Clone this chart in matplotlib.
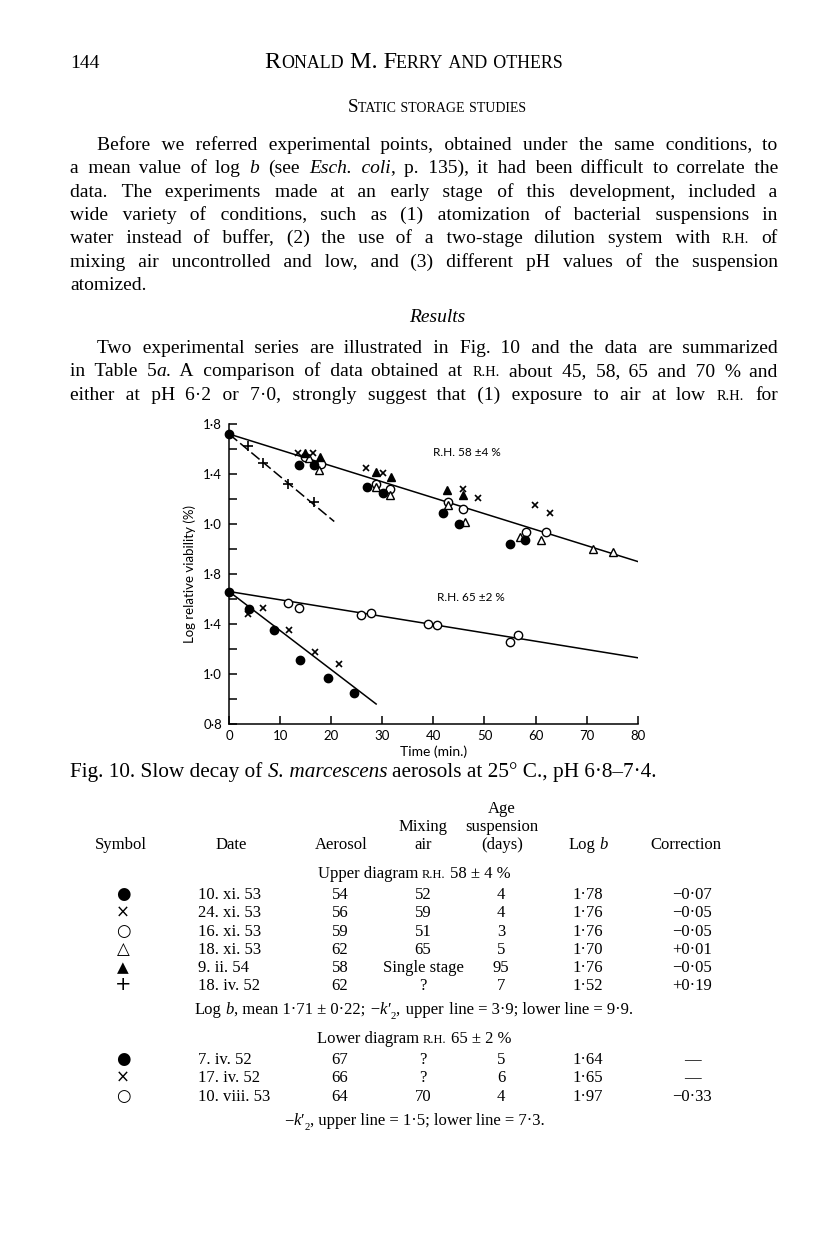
import re
import numpy as np
import matplotlib
matplotlib.use("Agg")
import matplotlib.pyplot as plt

W, H = 816, 1245
SERIF = ["Liberation Serif", "DejaVu Serif"]
SANS = ["Lato", "DejaVu Sans"]
SYM = ["DejaVu Sans"]
HAIR = "\u200a"

# ---- Fig. 10 data (log relative viability vs time, min) ----
UPPER_SHIFT = 1.2  # upper diagram sits above the lower one on a shared axis

up_dot_t = [0, 13.7, 16.7, 27.0, 30.1, 41.8, 45.0, 55.1, 58.0]
up_dot_v = [1.72, 1.47, 1.47, 1.30, 1.25, 1.09, 1.00, 0.84, 0.87]
up_x_t = [13.6, 16.5, 26.9, 30.1, 45.8, 48.8, 59.9, 62.9]
up_x_v = [1.57, 1.57, 1.45, 1.41, 1.28, 1.21, 1.15, 1.09]
up_circ_t = [14.8, 18.0, 28.8, 31.6, 42.9, 45.9, 58.2, 62.1]
up_circ_v = [1.54, 1.48, 1.32, 1.28, 1.18, 1.12, 0.94, 0.94]
up_tri_t = [15.7, 17.7, 28.8, 31.6, 42.9, 46.1, 56.9, 61.0, 71.2, 75.2]
up_tri_v = [1.53, 1.43, 1.30, 1.23, 1.15, 1.02, 0.90, 0.87, 0.80, 0.78]
up_ftri_t = [14.8, 17.8, 28.8, 31.8, 42.7, 45.8]
up_ftri_v = [1.57, 1.54, 1.42, 1.38, 1.27, 1.23]
up_plus_t = [3.8, 6.6, 11.5, 16.7]
up_plus_v = [1.62, 1.49, 1.32, 1.18]
up_line_t, up_line_v = [0, 80], [1.72, 0.70]
up_dash_t, up_dash_v = [0, 20.6], [1.72, 1.02]

lo_dot_t = [0, 3.9, 8.9, 13.9, 19.3, 24.4]
lo_dot_v = [1.66, 1.52, 1.35, 1.11, 0.97, 0.85]
lo_x_t = [3.8, 6.7, 11.8, 16.9, 21.6]
lo_x_v = [1.48, 1.53, 1.35, 1.18, 1.08]
lo_circ_t = [11.5, 13.7, 25.8, 27.8, 38.9, 40.8, 55.0, 56.6]
lo_circ_v = [1.57, 1.53, 1.47, 1.49, 1.40, 1.39, 1.26, 1.31]
lo_line_t, lo_line_v = [0, 80], [1.66, 1.13]
lo_steep_t, lo_steep_v = [0, 28.8], [1.66, 0.76]

XTICKS = [0, 10, 20, 30, 40, 50, 60, 70, 80]
YTICKS = [0.6, 1.0, 1.4, 1.8, 2.2, 2.6, 3.0]
YTICK_LABELS = ["0·8", "1·0", "1·4", "1·8", "1·0", "1·4", "1·8"]
YMINOR = [0.8, 1.2, 1.6, 2.0, 2.4, 2.8]

# ---- page text ----
PARA1 = [
    "Before we referred experimental points, obtained under the same conditions, to",
    "a mean value of log *b* (see *Esch.* *coli*, p. 135), it had been difficult to correlate the",
    "data. The experiments made at an early stage of this development, included a",
    "wide variety of conditions, such as (1) atomization of bacterial suspensions in",
    "water instead of buffer, (2) the use of a two-stage dilution system with ~r.h.~ of",
    "mixing air uncontrolled and low, and (3) different pH values of the suspension",
    "atomized.",
]
PARA2 = [
    "Two experimental series are illustrated in Fig. 10 and the data are summarized",
    "in Table 5*a*. A comparison of data obtained at ~r.h.~ about 45, 58, 65 and 70 % and",
    "either at pH 6·2 or 7·0, strongly suggest that (1) exposure to air at low ~r.h.~ for",
]

symbols_up = ["●", "×", "○", "△", "▲", "+"]
dates_up = ["10. xi. 53", "24. xi. 53", "16. xi. 53", "18. xi. 53", "9. ii. 54", "18. iv. 52"]
aerosol_up = ["54", "56", "59", "62", "58", "62"]
mixing_up = ["52", "59", "51", "65", "Single stage", "?"]
age_up = ["4", "4", "3", "5", "95", "7"]
logb_up = ["1·78", "1·76", "1·76", "1·70", "1·76", "1·52"]
corr_up = ["−0·07", "−0·05", "−0·05", "+0·01", "−0·05", "+0·19"]

symbols_lo = ["●", "×", "○"]
dates_lo = ["7. iv. 52", "17. iv. 52", "10. viii. 53"]
aerosol_lo = ["67", "66", "64"]
mixing_lo = ["?", "?", "70"]
age_lo = ["5", "6", "4"]
logb_lo = ["1·64", "1·65", "1·97"]
corr_lo = ["—", "—", "−0·33"]

fig = plt.figure(figsize=(W / 100, H / 100), dpi=100)
fig.patch.set_facecolor("white")
rend = fig.canvas.get_renderer()
_cache = {}


def fx(x):
    return x / W


def fy(y):
    return 1 - y / H


def measure(s, size, style="normal", family=SERIF):
    key = (s, size, style, tuple(family))
    if key not in _cache:
        t = fig.text(0, 0, s, fontsize=size, style=style, family=family)
        _cache[key] = t.get_window_extent(rend).width
        t.remove()
    return _cache[key]


def space_w(size, style="normal", family=SERIF):
    return measure("n n", size, style, family) - measure("nn", size, style, family)


def parse(tok, size):
    out = []
    for part in re.split(r"(\*[^*]+\*|~[^~]+~|_[^_]+_)", tok):
        if not part:
            continue
        if part[0] == "*" and len(part) > 1:
            out.append((part[1:-1], size, "italic", 0))
        elif part[0] == "~" and len(part) > 1:
            out.append((part[1:-1].upper(), size * 0.74, "normal", 0))
        elif part[0] == "_" and len(part) > 1:
            out.append((part[1:-1], size * 0.65, "normal", size * 0.4))
        else:
            out.append((part, size, "normal", 0))
    return out


def gap_string(run, seg, target, sz, st, family, g):
    # choose spaces + hair spaces so the next word lands near its target
    sp = space_w(sz, st, family)
    hair = max(measure("n" + HAIR + "n", sz, st, family) - measure("nn", sz, st, family), 0.5)
    best, err = " ", 1e9
    for n in (0, 1, 2, 3):
        m0 = int(round((g - n * sp) / hair))
        for m in (m0 - 1, m0, m0 + 1):
            if m < 0 or n + m == 0:
                continue
            gs = " " * n + HAIR * m
            e = abs(measure(run + gs + seg, sz, st, family) - target)
            if e < err:
                best, err = gs, e
    return best


def line(s, y, size, x=70, x1=None, ha="left", family=SERIF, fit=None):
    toks = s.split(" ")
    if fit:
        nat = sum(sum(measure(*sg[:3], family) for sg in parse(t, size)) for t in toks)
        nat += space_w(size, "normal", family) * (len(toks) - 1)
        size = size * fit / nat
    words = [parse(t, size) for t in toks]
    ww = [sum(measure(txt, sz, st, family) for txt, sz, st, dy in w) for w in words]
    total = sum(ww)
    if x1 is not None and len(words) > 1:
        g = (x1 - x - total) / (len(words) - 1)
        start = x
    else:
        g = space_w(size, "normal", family)
        full = total + g * (len(words) - 1)
        start = {"left": x, "center": x - full / 2, "right": x - full}[ha]
    runs = []  # [x0, text, size, style, dy]
    cur = start
    for i, w in enumerate(words):
        for k, (txt, sz, st, dy) in enumerate(w):
            same = runs and runs[-1][2:] == [sz, st, dy]
            if k == 0 and i > 0:
                if same:
                    r = runs[-1]
                    target = cur - r[0] + measure(txt, sz, st, family)
                    r[1] += gap_string(r[1], txt, target, sz, st, family, g) + txt
                else:
                    runs.append([cur, txt, sz, st, dy])
            elif k == 0:
                runs.append([cur, txt, sz, st, dy])
            else:
                if same:
                    runs[-1][1] += txt
                else:
                    r = runs[-1]
                    runs.append([r[0] + measure(r[1], r[2], r[3], family), txt, sz, st, dy])
        cur += ww[i] + g
    for x0, txt, sz, st, dy in runs:
        fig.text(fx(x0), fy(y + dy), txt, fontsize=sz, style=st, family=family, va="baseline")


# ---- header and body ----
line("144", 68, 14, x=70)
line("R~onald~ M. F~erry~ ~and~ ~others~", 68, 14, x=414, ha="center", fit=298)
line("S~tatic~ ~storage~ ~studies~", 112, 12, x=437, ha="center", fit=180)

BODY = 14
y = 150
for i, s in enumerate(PARA1):
    last = i == len(PARA1) - 1
    line(s, y, BODY, x=97 if i == 0 else 70, x1=None if last else 778)
    y += 23.3

line("*Results*", 322, BODY, x=437, ha="center")

y = 353
for i, s in enumerate(PARA2):
    line(s, y, BODY, x=97 if i == 0 else 70, x1=778)
    y += 23.5

line("Fig. 10. Slow decay of *S.* *marcescens* aerosols at 25° C., pH 6·8–7·4.", 777, 12, x=70, fit=587)

# ---- chart ----
ax = fig.add_axes([fx(229), fy(724), (637.7 - 229) / W, 300 / H])
ax.patch.set_alpha(0)
ax.set_xlim(0, 80)
ax.set_ylim(0.6, 3.0)
for side in ("top", "right"):
    ax.spines[side].set_visible(False)
for side in ("left", "bottom"):
    ax.spines[side].set_linewidth(1.1)

up = lambda v: np.array(v) + UPPER_SHIFT
lw = 1.1
ax.plot(up_line_t, up(up_line_v), color="black", lw=lw, zorder=2)
ax.plot(up_dash_t, up(up_dash_v), color="black", lw=lw, ls=(0, (7, 2.5)), zorder=2)
ax.plot(lo_line_t, lo_line_v, color="black", lw=lw, zorder=2)
ax.plot(lo_steep_t, lo_steep_v, color="black", lw=lw, zorder=2)


def pts(t, v, marker, filled, ms=6, mew=1.0):
    ax.plot(t, v, ls="none", marker=marker, ms=ms, mew=mew,
            mfc="black" if filled else "white", mec="black", clip_on=False, zorder=3)


pts(up_circ_t, up(up_circ_v), "o", False)
pts(up_tri_t, up(up_tri_v), "^", False)
pts(up_ftri_t, up(up_ftri_v), "^", True)
pts(up_dot_t, up(up_dot_v), "o", True)
pts(up_x_t, up(up_x_v), "x", False, ms=4.8, mew=1.2)
pts(up_plus_t, up(up_plus_v), "+", False, ms=6.5, mew=1.2)

pts(lo_circ_t, lo_circ_v, "o", False)
pts(lo_dot_t, lo_dot_v, "o", True)
pts(lo_x_t, lo_x_v, "x", False, ms=4.8, mew=1.2)

ax.text(39.9, 2.77, "R.H. 58 ±4 %", family=SANS, fontsize=8.5, va="center")
ax.text(40.7, 1.61, "R.H. 65 ±2 %", family=SANS, fontsize=8.5, va="center")

ax.set_xticks(XTICKS)
ax.set_yticks(YTICKS)
ax.set_yticklabels(YTICK_LABELS)
ax.set_yticks(YMINOR, minor=True)
ax.tick_params(which="both", direction="in", length=5.5, width=1.1, labelsize=9.5)
ax.tick_params(axis="x", pad=4)
ax.tick_params(axis="y", pad=5)
for lab in ax.get_xticklabels() + ax.get_yticklabels():
    lab.set_family(SANS)
ax.set_xlabel("Time (min.)", family=SANS, fontsize=10, labelpad=3)
ax.set_ylabel("Log relative viability (%)", family=SANS, fontsize=9.5, labelpad=5)

# ---- table ----
TS = 12
COL_SYM, COL_DATE, COL_AER, COL_MIX, COL_AGE, COL_LOGB, COL_CORR = 123, 198, 340, 423, 501, 588, 692

line("Age", 813, TS, x=502, ha="center")
line("Mixing", 831, TS, x=423, ha="center")
line("suspension", 831, TS, x=502, ha="center")
for txt, cx in [("Symbol", 121), ("Date", 231), ("Aerosol", 341), ("air", 423),
                ("(days)", 502), ("Log *b*", 588), ("Correction", 686)]:
    line(txt, 849, TS, x=cx, ha="center")


def rows(y0, syms, dates, aer, mix, age, logb, corr):
    for i in range(len(syms)):
        yy = y0 + i * 18.3
        sz = {"●": 12, "○": 12, "△": 12, "▲": 11, "×": 12, "+": 14}[syms[i]]
        fig.text(fx(COL_SYM), fy(yy), syms[i], family=SYM, fontsize=sz, ha="center", va="baseline")
        line(dates[i], yy, TS, x=COL_DATE)
        line(aer[i], yy, TS, x=COL_AER, ha="center")
        line(mix[i], yy, TS, x=COL_MIX, ha="center")
        line(age[i], yy, TS, x=COL_AGE, ha="center")
        line(logb[i], yy, TS, x=COL_LOGB, ha="center")
        line(corr[i], yy, TS, x=COL_CORR, ha="center")


line("Upper diagram ~r.h.~ 58 ± 4 %", 878, TS, x=414, ha="center")
rows(899, symbols_up, dates_up, aerosol_up, mixing_up, age_up, logb_up, corr_up)
line("Log *b*, mean 1·71 ± 0·22;  −*k*′_2_, upper line = 3·9; lower line = 9·9.", 1014, TS, x=414, ha="center")
line("Lower diagram ~r.h.~ 65 ± 2 %", 1043, TS, x=414, ha="center")
rows(1064, symbols_lo, dates_lo, aerosol_lo, mixing_lo, age_lo, logb_lo, corr_lo)
line("−*k*′_2_, upper line = 1·5; lower line = 7·3.", 1125, TS, x=414, ha="center")

fig.savefig("out.png", dpi=100, facecolor="white")
